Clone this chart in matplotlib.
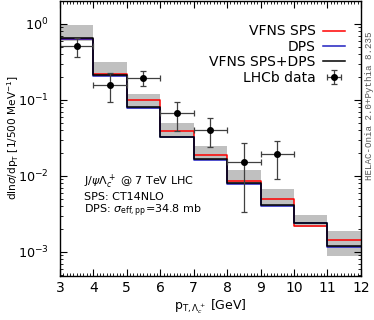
import numpy as np
import matplotlib.pyplot as plt
from matplotlib.ticker import MultipleLocator, LogLocator, NullFormatter

# bin edges in pT [GeV]
edges = [3, 4, 5, 6, 7, 8, 9, 10, 11, 12]
sps = [0.63, 0.22, 0.100, 0.0395, 0.0189, 0.00867, 0.00493, 0.00220, 0.00143]
dps = [0.64, 0.205, 0.078, 0.0320, 0.0162, 0.00780, 0.00405, 0.00238, 0.00117]
tot = [0.655, 0.211, 0.080, 0.0329, 0.0167, 0.00800, 0.00416, 0.00243, 0.00120]
band_hi = [0.97, 0.313, 0.121, 0.0493, 0.0248, 0.0120, 0.00674, 0.00301, 0.00190]
band_lo = [0.60, 0.205, 0.077, 0.0320, 0.0162, 0.00780, 0.00405, 0.00210, 0.00087]

# LHCb data
x_data = [3.5, 4.5, 5.5, 6.5, 7.5, 8.5, 9.5]
y_data = [0.52, 0.159, 0.197, 0.0668, 0.0407, 0.0150, 0.0195]
y_up = [0.66, 0.224, 0.243, 0.095, 0.058, 0.0269, 0.0289]
y_dn = [0.37, 0.093, 0.153, 0.0395, 0.0243, 0.00333, 0.0091]


def steps(vals):
    return list(vals) + [vals[-1]]


fig = plt.figure(figsize=(3.74, 3.2), dpi=100)
ax = fig.add_axes([0.160, 0.1375, 0.805, 0.859])

for i in range(len(band_hi)):
    ax.fill_between([edges[i], edges[i + 1]], band_lo[i], band_hi[i],
                    color='#c0c0c0', lw=0)

ax.step(edges, steps(sps), where='post', color='red', lw=1.1, label='VFNS SPS')
ax.step(edges, steps(dps), where='post', color='#2020c0', lw=1.1, label='DPS')
ax.step(edges, steps(tot), where='post', color='black', lw=1.1, label='VFNS SPS+DPS')

yerr = [np.array(y_data) - np.array(y_dn), np.array(y_up) - np.array(y_data)]
ax.errorbar(x_data, y_data, xerr=0.5, yerr=yerr, fmt='o', color='black',
            ecolor='#404040', ms=4, capsize=2, elinewidth=0.9, capthick=0.9,
            label='LHCb data')

ax.set_yscale('log')
ax.set_xlim(3, 12)
ax.set_ylim(4.8e-4, 2.0)
ax.xaxis.set_major_locator(MultipleLocator(1))
ax.xaxis.set_minor_locator(MultipleLocator(0.1))
ax.yaxis.set_major_locator(LogLocator(base=10, numticks=10))
ax.yaxis.set_minor_locator(LogLocator(base=10, subs=np.arange(2, 10), numticks=10))
ax.yaxis.set_minor_formatter(NullFormatter())
ax.tick_params(which='both', direction='in', top=True, right=True, labelsize=10)
ax.tick_params(which='major', length=5)
ax.tick_params(which='minor', length=2.5)
ax.tick_params(axis='y', which='major', pad=8, labelsize=9.2)
for s in ax.spines.values():
    s.set_linewidth(1.0)

ax.set_xlabel(r'p$_{\mathrm{T},\Lambda_c^+}$ [GeV]', fontsize=9, labelpad=2)
# y label placed by hand, it sits close to the figure edge
fig.text(13 / 374, 0.57, r'dln$\sigma$/dp$_\mathrm{T}$ [1/500 MeV$^{-1}$]',
         fontsize=7.6, rotation=90, ha='center', va='center')

ax.legend(loc='upper right', bbox_to_anchor=(0.947, 0.915), frameon=False,
          markerfirst=False, fontsize=10, handlelength=1.6,
          labelspacing=0.1, handletextpad=0.5, borderaxespad=0, borderpad=0)

ax.text(0.08, 0.375, r'J/$\psi\Lambda_c^+$ @ 7 TeV LHC' + '\n' + 'SPS: CT14NLO' + '\n'
        + r'DPS: $\sigma_{\mathrm{eff,pp}}$=34.8 mb',
        transform=ax.transAxes, fontsize=8, va='top', linespacing=1.05)

fig.text(0.987, 0.67, 'HELAC-Onia 2.0+Pythia 8.235', rotation=90,
         family='Liberation Mono', fontsize=6.6, color='#555555',
         ha='center', va='center')

fig.savefig('out.png', dpi=100)
